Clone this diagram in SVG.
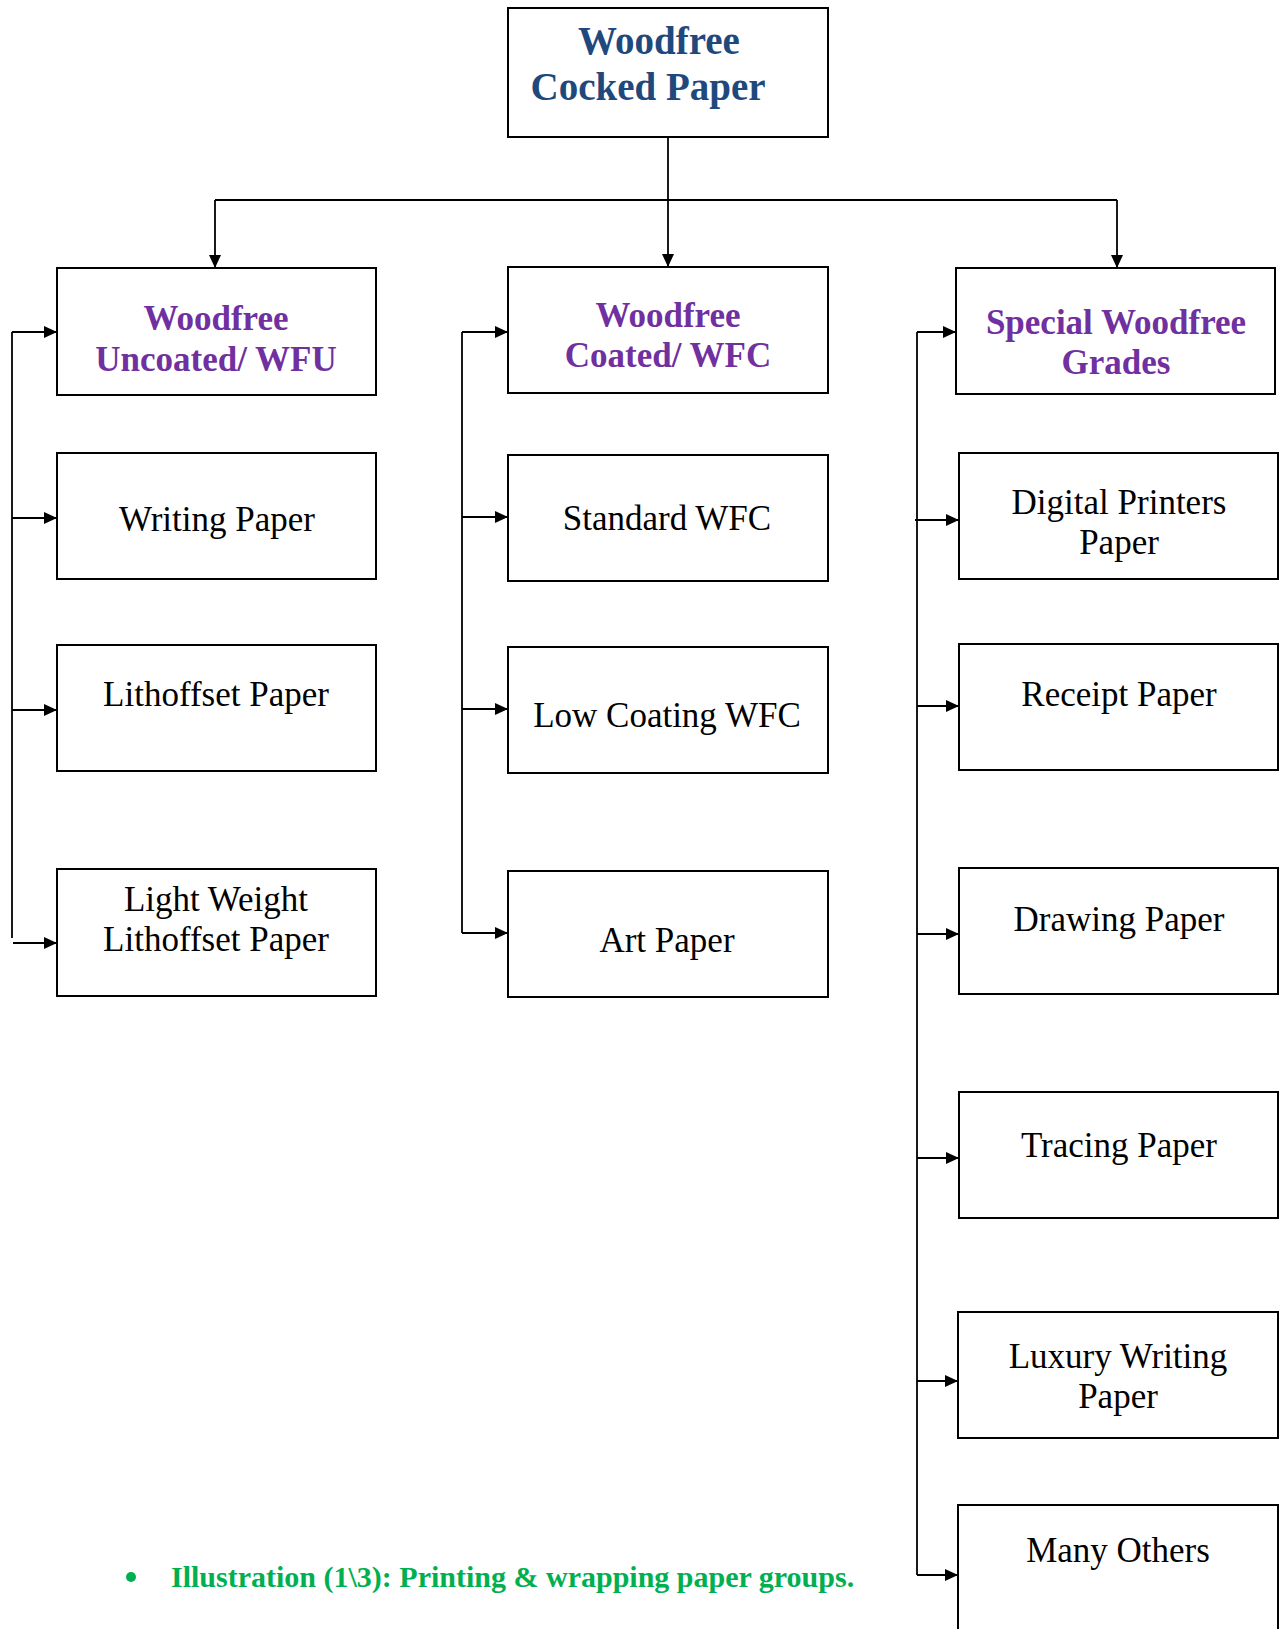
<svg xmlns="http://www.w3.org/2000/svg" width="1281" height="1629" viewBox="0 0 1281 1629">
<style>
.box{fill:#fff;stroke:#000;stroke-width:2}
.t{font-family:"Liberation Serif","Times New Roman",serif;font-size:35px;text-anchor:middle;fill:#000}
.h{font-weight:bold;fill:#7030A0}
.top{font-weight:bold;fill:#1F497D;font-size:39px}
.c{fill:none;stroke:#000;stroke-width:1.8}
.a{marker-end:url(#arr)}
.cap{font-family:"Liberation Serif","Times New Roman",serif;font-size:30px;font-weight:bold;fill:#00B050}
</style>
<defs>
<marker id="arr" markerUnits="userSpaceOnUse" markerWidth="14" markerHeight="12" refX="13" refY="6" orient="auto">
<path d="M0,0 L13,6 L0,12 Z" fill="#000"/>
</marker>
</defs>
<rect width="1281" height="1629" fill="#fff"/>
<g id="connectors">
<path class="c" d="M668,137 V200"/>
<path class="c a" d="M668,200 V267"/>
<path class="c" d="M215,200 H1117"/>
<path class="c a" d="M215,200 V268"/>
<path class="c a" d="M1117,200 V268"/>
<path class="c" d="M12,332 V938"/>
<path class="c a" d="M12,332 H57"/>
<path class="c a" d="M12,518 H57"/>
<path class="c a" d="M12,710 H57"/>
<path class="c a" d="M13,943 H57"/>
<path class="c" d="M462,332 V933"/>
<path class="c a" d="M462,332 H508"/>
<path class="c a" d="M462,517 H508"/>
<path class="c a" d="M462,709 H508"/>
<path class="c a" d="M462,933 H508"/>
<path class="c" d="M917,332 V1575"/>
<path class="c a" d="M917,332 H956"/>
<path class="c a" d="M915,520 H959"/>
<path class="c a" d="M917,706 H959"/>
<path class="c a" d="M917,934 H959"/>
<path class="c a" d="M917,1158 H959"/>
<path class="c a" d="M917,1381 H958"/>
<path class="c a" d="M917,1575 H958"/>
</g>
<g id="n-root">
<rect class="box" x="508" y="8" width="320" height="129"/>
<text class="t top" x="659" y="54">Woodfree</text>
<text class="t top" x="648" y="100">Cocked Paper</text>
</g>
<g id="n-wfu">
<rect class="box" x="57" y="268" width="319" height="127"/>
<text class="t h" x="216" y="330">Woodfree</text>
<text class="t h" x="216" y="371">Uncoated/ WFU</text>
</g>
<g id="n-wfc">
<rect class="box" x="508" y="267" width="320" height="126"/>
<text class="t h" x="668" y="327">Woodfree</text>
<text class="t h" x="668" y="367">Coated/ WFC</text>
</g>
<g id="n-special">
<rect class="box" x="956" y="268" width="319" height="126"/>
<text class="t h" x="1116" y="334">Special Woodfree</text>
<text class="t h" x="1116" y="374">Grades</text>
</g>
<g id="n-writing">
<rect class="box" x="57" y="453" width="319" height="126"/>
<text class="t" x="217" y="531">Writing Paper</text>
</g>
<g id="n-litho">
<rect class="box" x="57" y="645" width="319" height="126"/>
<text class="t" x="216" y="706">Lithoffset Paper</text>
</g>
<g id="n-lwlitho">
<rect class="box" x="57" y="869" width="319" height="127"/>
<text class="t" x="216" y="911">Light Weight</text>
<text class="t" x="216" y="951">Lithoffset Paper</text>
</g>
<g id="n-standard">
<rect class="box" x="508" y="455" width="320" height="126"/>
<text class="t" x="667" y="530">Standard WFC</text>
</g>
<g id="n-lowcoat">
<rect class="box" x="508" y="647" width="320" height="126"/>
<text class="t" x="667" y="727">Low Coating WFC</text>
</g>
<g id="n-art">
<rect class="box" x="508" y="871" width="320" height="126"/>
<text class="t" x="667" y="952">Art Paper</text>
</g>
<g id="n-digital">
<rect class="box" x="959" y="453" width="319" height="126"/>
<text class="t" x="1119" y="514">Digital Printers</text>
<text class="t" x="1119" y="554">Paper</text>
</g>
<g id="n-receipt">
<rect class="box" x="959" y="644" width="319" height="126"/>
<text class="t" x="1119" y="706">Receipt Paper</text>
</g>
<g id="n-drawing">
<rect class="box" x="959" y="868" width="319" height="126"/>
<text class="t" x="1119" y="931">Drawing Paper</text>
</g>
<g id="n-tracing">
<rect class="box" x="959" y="1092" width="319" height="126"/>
<text class="t" x="1119" y="1157">Tracing Paper</text>
</g>
<g id="n-luxury">
<rect class="box" x="958" y="1312" width="320" height="126"/>
<text class="t" x="1118" y="1368">Luxury Writing</text>
<text class="t" x="1118" y="1408">Paper</text>
</g>
<g id="n-others">
<rect class="box" x="958" y="1505" width="320" height="140"/>
<text class="t" x="1118" y="1562">Many Others</text>
</g>
<g id="caption">
<circle cx="131" cy="1577" r="5" fill="#00B050"/>
<text class="cap" x="171" y="1587">Illustration (1\3): Printing &amp; wrapping paper groups.</text>
</g>
</svg>
